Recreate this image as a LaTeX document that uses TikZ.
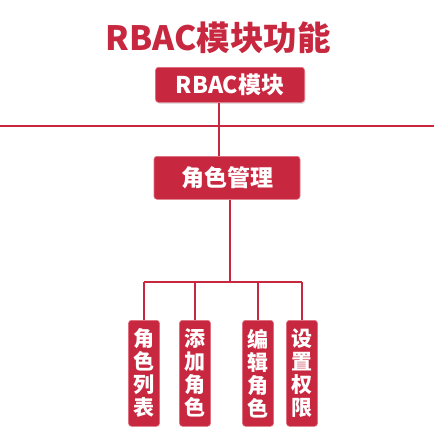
\documentclass[tikz,border=0pt]{standalone}
\usepackage{fontspec}
\newfontfamily\cjk{Noto Sans CJK SC}
\usetikzlibrary{shadows}
\definecolor{rbred}{HTML}{C8283F}
\definecolor{rbedge}{HTML}{E07080}
\tikzset{
  box/.style={fill=rbred, draw=rbedge, line width=0.6pt, rounded corners=3pt, text=white, font=\cjk\bfseries, inner sep=0pt, anchor=north},
  vbox/.style={box, minimum width=31pt, minimum height=106pt, font=\cjk\bfseries\fontsize{21}{23}\selectfont, align=center},
  link/.style={rbred, line width=2.6pt}
}
\begin{document}
\begin{tikzpicture}[x=1pt,y=-1pt]
\useasboundingbox (0,0) rectangle (434,434);
\fill[white] (0,0) rectangle (434,434);
\node[font=\cjk\bfseries\fontsize{33.5}{36}\selectfont, text=rbred] (title) at (218,38) {RBAC模块功能};
\node[box, minimum width=149pt, minimum height=35pt, font=\cjk\bfseries\fontsize{23}{25}\selectfont, drop shadow={opacity=0.25, shadow xshift=1pt, shadow yshift=-1.5pt}] (mod) at (230,67) {RBAC模块};
\node[box, minimum width=146pt, minimum height=43pt, font=\cjk\bfseries\fontsize{23}{25}\selectfont] (role) at (227,156) {角色管理};
\node[vbox] (b1) at (144,320) {角\\色\\列\\表};
\node[vbox] (b2) at (195,320) {添\\加\\角\\色};
\node[vbox] (b3) at (258,320) {编\\辑\\角\\色};
\node[vbox] (b4) at (302,320) {设\\置\\权\\限};
\coordinate (hl) at (0,126);
\coordinate (hr) at (434,126);
\coordinate (bar) at (230,282);
\draw[link] (hl) -- (hr);
\draw[link] (mod.south -| 219,0) -- (role.north -| 219,0);
\draw[link] (role.south -| bar) -- (bar);
\draw[link] (b1.north |- bar) -- (b4.north |- bar);
\foreach \b in {b1,b2,b3,b4} \draw[link] (\b.north |- bar) -- (\b.north);
\end{tikzpicture}
\end{document}
